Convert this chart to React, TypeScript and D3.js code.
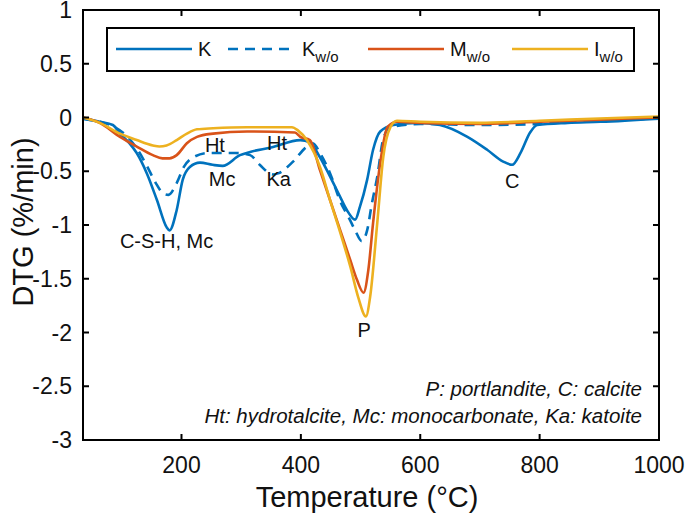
import React from 'react';
import * as d3 from 'd3';

// Temperature (°C) and DTG (%/min)
const kT = [35, 63, 85, 97, 113, 125, 142, 159, 175, 180, 192, 202, 214, 231, 252, 269, 298, 315, 350, 399, 415, 432, 449, 466, 477, 491, 499, 511, 521, 533, 555, 595, 633, 679, 712, 739, 754, 768, 784, 796, 847, 902, 1000];
const kV = [-0.01, -0.04, -0.07, -0.15, -0.24, -0.33, -0.52, -0.77, -1.02, -1.05, -0.86, -0.58, -0.46, -0.42, -0.44, -0.45, -0.35, -0.32, -0.28, -0.21, -0.23, -0.37, -0.55, -0.74, -0.86, -0.95, -0.83, -0.58, -0.30, -0.13, -0.07, -0.05, -0.07, -0.18, -0.30, -0.41, -0.44, -0.33, -0.14, -0.07, -0.05, -0.04, -0.01];

const kwT = [35, 63, 85, 113, 130, 142, 158, 170, 178, 192, 204, 220, 245, 290, 315, 331, 353, 362, 387, 410, 420, 432, 449, 466, 482, 491, 502, 511, 519, 528, 538, 550, 600, 700, 800, 850, 1000];
const kwV = [-0.01, -0.04, -0.08, -0.2, -0.33, -0.45, -0.62, -0.71, -0.72, -0.61, -0.46, -0.37, -0.33, -0.33, -0.35, -0.44, -0.53, -0.52, -0.41, -0.27, -0.24, -0.33, -0.52, -0.78, -0.95, -1.05, -1.15, -1.05, -0.8, -0.55, -0.2, -0.09, -0.06, -0.07, -0.06, -0.04, -0.01];

const mT = [35, 63, 97, 125, 152, 168, 180, 192, 209, 226, 253, 310, 390, 399, 415, 432, 449, 466, 483, 494, 505, 513, 521, 533, 545, 561, 600, 700, 800, 900, 1000];
const mV = [0.0, -0.05, -0.18, -0.27, -0.35, -0.38, -0.38, -0.35, -0.24, -0.18, -0.15, -0.13, -0.14, -0.18, -0.21, -0.49, -0.77, -1.05, -1.33, -1.51, -1.63, -1.42, -0.98, -0.42, -0.09, -0.04, -0.05, -0.06, -0.04, -0.02, 0.0];

const iT = [35, 63, 97, 125, 152, 163, 175, 192, 209, 226, 253, 310, 385, 395, 410, 432, 449, 466, 483, 496, 509, 516, 528, 538, 550, 561, 600, 700, 800, 900, 1000];
const iV = [0.0, -0.05, -0.15, -0.21, -0.26, -0.27, -0.26, -0.21, -0.15, -0.11, -0.10, -0.09, -0.09, -0.12, -0.21, -0.46, -0.77, -1.07, -1.39, -1.67, -1.85, -1.67, -0.98, -0.37, -0.09, -0.03, -0.04, -0.05, -0.03, -0.01, 0.01];

const xTicks = [200, 400, 600, 800, 1000];
const yTicks = [1, 0.5, 0, -0.5, -1, -1.5, -2, -2.5, -3];

const annotations = [
  { t: 175, v: -1.15, label: 'C-S-H, Mc' },
  { t: 256, v: -0.26, label: 'Ht' },
  { t: 268, v: -0.57, label: 'Mc' },
  { t: 360, v: -0.24, label: 'Ht' },
  { t: 363, v: -0.57, label: 'Ka' },
  { t: 506, v: -1.98, label: 'P' },
  { t: 754, v: -0.59, label: 'C' },
];

const notes = ['P: portlandite, C: calcite', 'Ht: hydrotalcite, Mc: monocarbonate, Ka: katoite'];

const BLUE = '#0072BD';
const RED = '#D95319';
const YEL = '#EDB120';

const W = 685, H = 515;
const L = 83, R = 659, T = 10, B = 440;
const FONT = 'Liberation Sans, Arial, sans-serif';

export default function App() {
  const x = d3.scaleLinear().domain([35, 1000]).range([L, R]);
  const y = d3.scaleLinear().domain([-3, 1]).range([B, T]);
  const mk = (ts: number[], vs: number[]) =>
    d3.line<number>().x((_, i) => x(ts[i])).y((d) => y(d)).curve(d3.curveMonotoneX)(vs) || '';

  const series = [
    { d: mk(kwT, kwV), c: BLUE, dash: '10,7' },
    { d: mk(kT, kV), c: BLUE, dash: undefined },
    { d: mk(mT, mV), c: RED, dash: undefined },
    { d: mk(iT, iV), c: YEL, dash: undefined },
  ];
  const tk = 6;
  const legY = 49;
  const legendItems = [
    { x0: 116, x1: 192, c: BLUE, dash: undefined, main: 'K', sub: '' },
    { x0: 228, x1: 296, c: BLUE, dash: '10,7', main: 'K', sub: 'w/o' },
    { x0: 368, x1: 444, c: RED, dash: undefined, main: 'M', sub: 'w/o' },
    { x0: 512, x1: 588, c: YEL, dash: undefined, main: 'I', sub: 'w/o' },
  ];

  return (
    <svg width={W} height={H} style={{ position: 'absolute', left: 0, top: 0, background: '#fff' }} fontFamily={FONT}>
      <defs>
        <clipPath id="plotclip">
          <rect x={L} y={T} width={R - L} height={B - T} />
        </clipPath>
      </defs>
      <g clipPath="url(#plotclip)">
        {series.map((s, i) => (
          <path key={i} d={s.d} fill="none" stroke={s.c} strokeWidth={2.6} strokeDasharray={s.dash} strokeLinejoin="round" />
        ))}
      </g>
      {annotations.map((a, i) => (
        <text key={i} x={x(a.t)} y={y(a.v)} textAnchor="middle" dominantBaseline="central" fontSize={20} fill="#111">
          {a.label}
        </text>
      ))}
      {notes.map((n, i) => (
        <text key={i} x={642} y={396 + i * 27} textAnchor="end" fontSize={20.5} fontStyle="italic" fill="#111">
          {n}
        </text>
      ))}
      {/* axes box */}
      <rect x={L} y={T} width={R - L} height={B - T} fill="none" stroke="#000" strokeWidth={2} />
      {xTicks.map((t) => (
        <g key={t}>
          <line x1={x(t)} x2={x(t)} y1={B} y2={B - tk} stroke="#000" strokeWidth={2} />
          <line x1={x(t)} x2={x(t)} y1={T} y2={T + tk} stroke="#000" strokeWidth={2} />
          <text x={x(t)} y={473} textAnchor="middle" fontSize={23} fill="#111">{t}</text>
        </g>
      ))}
      {yTicks.map((t) => (
        <g key={t}>
          <line x1={L} x2={L + tk} y1={y(t)} y2={y(t)} stroke="#000" strokeWidth={2} />
          <line x1={R} x2={R - tk} y1={y(t)} y2={y(t)} stroke="#000" strokeWidth={2} />
          <text x={72} y={y(t)} textAnchor="end" dominantBaseline="central" fontSize={23} fill="#111">{String(t)}</text>
        </g>
      ))}
      <text x={367} y={507} textAnchor="middle" fontSize={29} fill="#111">Temperature (°C)</text>
      <text transform={`translate(23,${222}) rotate(-90)`} textAnchor="middle" dominantBaseline="central" fontSize={29} fill="#111">DTG (%/min)</text>
      {/* legend */}
      <rect x={107} y={28} width={527} height={43} fill="#fff" stroke="#000" strokeWidth={2} />
      {legendItems.map((l, i) => (
        <g key={i}>
          <line x1={l.x0} x2={l.x1} y1={legY} y2={legY} stroke={l.c} strokeWidth={2.6} strokeDasharray={l.dash} />
          <text x={l.x1 + 6} y={legY + 7} fontSize={20} fill="#111">
            {l.main}
            {l.sub ? <tspan dy={6} fontSize={15}>{l.sub}</tspan> : null}
          </text>
        </g>
      ))}
    </svg>
  );
}
